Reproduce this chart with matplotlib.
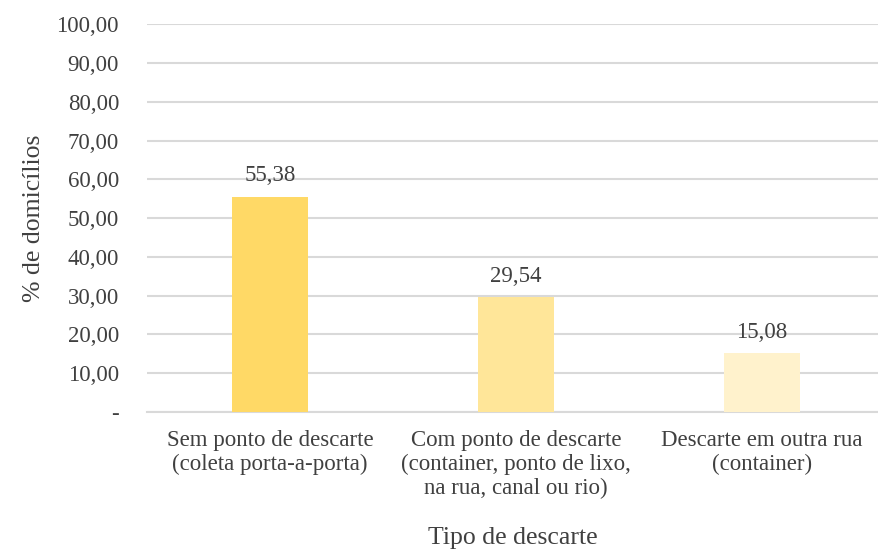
import matplotlib.pyplot as plt
import numpy as np

categories = [
    "Sem ponto de descarte\n(coleta porta-a-porta)",
    "Com ponto de descarte\n(container, ponto de lixo,\nna rua, canal ou rio)",
    "Descarte em outra rua\n(container)",
]
percentages = [55.38, 29.54, 15.08]
bar_colors = ["#FFD966", "#FFE699", "#FFF2CC"]
yticks = np.arange(0, 101, 10)
ytick_labels = ["-"] + [f"{v:.2f}".replace(".", ",") for v in yticks[1:]]

plt.rcParams["font.family"] = ["Liberation Serif", "DejaVu Serif"]
text_color = "#404040"
fs = 16.5

fig = plt.figure(figsize=(8.79, 5.5), dpi=100)
ax = fig.add_axes([0.167, 0.251, 0.840, 0.705])

x = np.arange(len(categories))
ax.bar(x, percentages, width=0.31, color=bar_colors, zorder=3)

for xi, v in zip(x, percentages):
    ax.text(xi, v + 2.8, f"{v:.2f}".replace(".", ","), ha="center", va="bottom",
            fontsize=fs, color=text_color)

ax.set_xlim(-0.5, 2.5)
ax.set_ylim(0, 100)
ax.set_yticks(yticks)
ax.set_yticklabels(ytick_labels, fontsize=fs, color=text_color)
ax.set_xticks(x)
ax.set_xticklabels(categories, fontsize=fs, color=text_color, linespacing=1.17)
ax.tick_params(axis="y", length=0, pad=20)
ax.tick_params(axis="x", length=0, pad=13)

ax.grid(axis="y", color="#D9D9D9", linewidth=1.5, zorder=0)
for side in ["top", "right", "left"]:
    ax.spines[side].set_visible(False)
ax.spines["bottom"].set_color("#D9D9D9")
ax.spines["bottom"].set_linewidth(1.5)

ax.set_ylabel("% de domicílios", fontsize=18.5, color=text_color, labelpad=8)
fig.text(513 / 879, 1 - 538 / 550, "Tipo de descarte", ha="center",
         va="center", fontsize=18.5, color=text_color)

fig.savefig("out.png", dpi=100)
